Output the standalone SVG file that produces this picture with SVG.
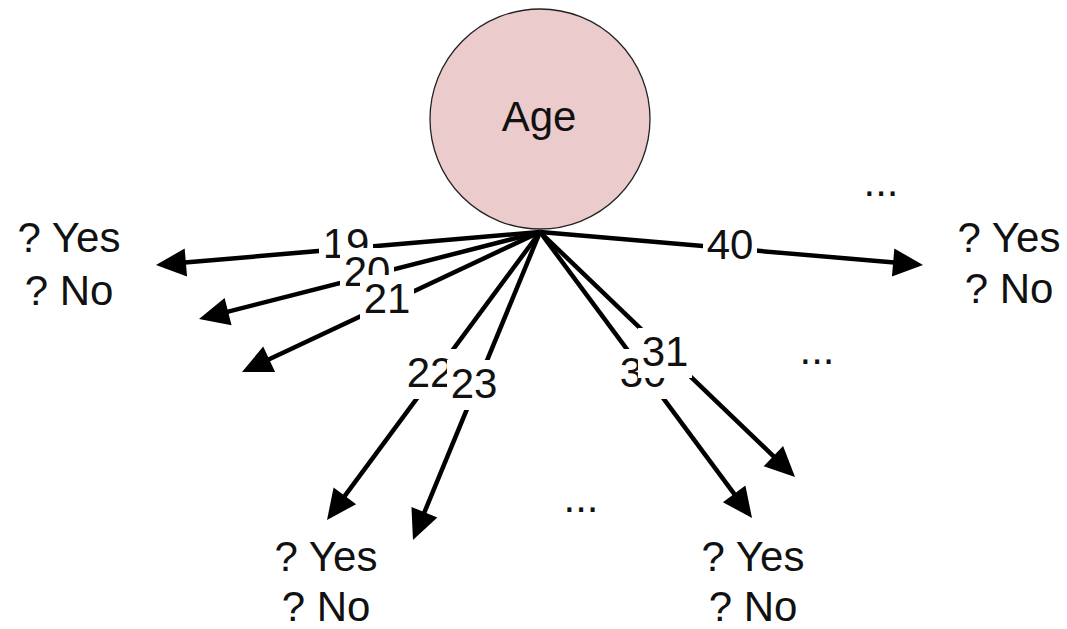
<svg xmlns="http://www.w3.org/2000/svg" width="1067" height="629" viewBox="0 0 1067 629">
  <style>
    text { font-family: "Liberation Sans", Arial, sans-serif; font-size: 42px; fill: #111; text-anchor: middle; }
    .edge { stroke: #000; stroke-width: 4.5; fill: none; marker-end: url(#arrow); }
    .lbl-bg { fill: #fff; }
    .root { fill: #ebcbcb; stroke: #222; stroke-width: 1.3; }
  </style>
  <defs>
    <marker id="arrow" markerUnits="userSpaceOnUse" markerWidth="30" markerHeight="28" refX="10" refY="14" orient="auto" overflow="visible">
      <path d="M0,0 L30,14 L0,28 Z" fill="#000"/>
    </marker>
  </defs>

  <!-- root attribute node -->
  <g id="node-age">
    <circle class="root" cx="540" cy="119" r="110"/>
    <text x="539" y="131">Age</text>
  </g>

  <!-- branches out of the root -->
  <g id="connectors">
    <line class="edge" x1="540" y1="232" x2="175.9" y2="263.3"/>
    <line class="edge" x1="540" y1="232" x2="218.4" y2="314.1"/>
    <line class="edge" x1="540" y1="232" x2="260.1" y2="363.5"/>
    <line class="edge" x1="540" y1="232" x2="338.9" y2="503.9"/>
    <line class="edge" x1="540" y1="232" x2="420.6" y2="521.5"/>
    <line class="edge" x1="540" y1="232" x2="740.1" y2="501.9"/>
    <line class="edge" x1="540" y1="232" x2="780.6" y2="463.1"/>
    <line class="edge" x1="540" y1="232" x2="903.1" y2="263.3"/>
  </g>

  <!-- branch values, each on a white patch -->
  <g id="edge-labels">
    <g id="label-19"><rect class="lbl-bg" x="319" y="220" width="54" height="50"/><text x="346" y="258">19</text></g>
    <g id="label-20"><rect class="lbl-bg" x="340" y="248" width="54" height="50"/><text x="367" y="286">20</text></g>
    <g id="label-21"><rect class="lbl-bg" x="360" y="275" width="54" height="50"/><text x="387" y="313">21</text></g>
    <g id="label-22"><rect class="lbl-bg" x="403" y="349" width="54" height="50"/><text x="430" y="387">22</text></g>
    <g id="label-23"><rect class="lbl-bg" x="447" y="360" width="54" height="50"/><text x="474" y="398">23</text></g>
    <g id="label-30"><rect class="lbl-bg" x="616" y="349" width="54" height="50"/><text x="643" y="387">30</text></g>
    <g id="label-31"><rect class="lbl-bg" x="638" y="328" width="54" height="50"/><text x="665" y="366">31</text></g>
    <g id="label-40"><rect class="lbl-bg" x="703" y="221" width="54" height="50"/><text x="730" y="259">40</text></g>
  </g>

  <!-- leaf outcomes -->
  <g id="leaf-left">
    <text x="69" y="252">? Yes</text>
    <text x="69" y="305">? No</text>
  </g>
  <g id="leaf-right">
    <text x="1009" y="252">? Yes</text>
    <text x="1009" y="303">? No</text>
  </g>
  <g id="leaf-bottom-left">
    <text x="326" y="571">? Yes</text>
    <text x="326" y="621">? No</text>
  </g>
  <g id="leaf-bottom-right">
    <text x="753" y="571">? Yes</text>
    <text x="753" y="621">? No</text>
  </g>

  <!-- omitted branches -->
  <g id="ellipses">
    <text x="881" y="196">...</text>
    <text x="817" y="364">...</text>
    <text x="581" y="512">...</text>
  </g>
</svg>
